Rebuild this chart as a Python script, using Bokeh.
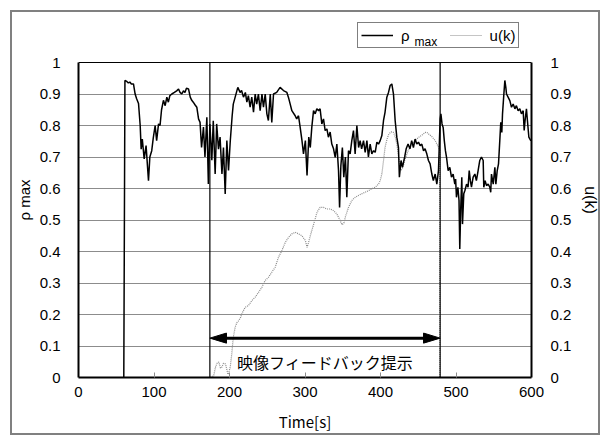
from math import pi
from bokeh.plotting import figure
from bokeh.models import (Range1d, LinearAxis, Span, Label, Legend, LegendItem,
                          FixedTicker, ColumnDataSource)
from bokeh.embed import file_html
from bokeh.resources import INLINE
from bokeh.core.properties import value

# ---- data ----
RHO_T = [60, 61.5, 64, 66, 68, 70, 72.8, 75, 77, 79.5, 81.7, 83, 84.5, 87, 89.5, 92.7, 94.5, 97, 99,
         101.5, 103.5, 106, 108, 110, 112.5, 114.8, 117, 119, 121, 123.6, 127, 130, 132.5, 134.5,
         136.8, 139, 141, 143, 145.7, 148, 150, 152, 154.5, 156.7, 159, 161, 163, 165.5, 167.5,
         170, 172, 174, 176.6, 178.5, 181, 183, 185.4, 187.5, 190, 192, 194.3, 196.5, 198.7, 201,
         203.5, 205, 207.5, 211, 214, 216, 218.5, 221, 223, 225, 227.3, 229.5, 231.8, 234, 236,
         238.3, 240.6, 243, 245, 247.3, 249.5, 251.5, 254, 256, 258.3, 262.5, 267, 271.5, 276,
         278, 280.4, 282.6, 287, 289, 291.4, 293.6, 296, 298, 300.5, 302.7, 305, 307, 309, 311.3,
         313.5, 315.7, 318, 320, 322.3, 324.5, 326.7, 329, 331, 333.3, 335.5, 337.8, 340, 342.2,
         344.4, 345.8, 347.5, 349.5, 351.4, 353.5, 355.4, 357.6, 359.8, 362, 364.2, 366.4, 368.7,
         371, 373, 375, 377.5, 379.7, 382, 384, 386.3, 388.5, 390.8, 393, 395.2, 397.4, 399.6,
         401.8, 404, 406, 408.4, 410.6, 412.8, 415, 417.2, 419.4, 421.6, 423.8, 425, 427.2, 429,
         432, 434, 436.5, 439, 441.3, 443.6, 445.8, 448, 450.3, 452.5, 454.7, 457, 459, 461.3,
         463.5, 465.7, 468, 470, 472.4, 474.6, 476.8, 479, 480, 481.5, 483, 484.5, 486, 487.4,
         489.6, 491.8, 494, 496.2, 498.4, 499.5, 500.6, 502.5, 504, 505, 506.3, 507.7, 508.6,
         510.3, 511.7, 514, 516, 517.5, 519, 520.5, 522.7, 525, 527, 529.3, 531.5, 533.7, 536,
         536.8, 538.6, 540.4, 542.6, 544.8, 546, 547, 549.3, 551.5, 552.8, 554.6, 556.3, 558,
         559.3, 560.7, 561.6, 563.4, 564.7, 566, 566.9, 569, 571.3, 573.5, 575.7, 578, 580, 582.3,
         584.5, 586.7, 589, 590.3, 591.5, 593.3, 594.6, 596.5, 598.5, 600]
RHO_V = [0.0, 0.943, 0.94, 0.935, 0.938, 0.932, 0.932, 0.90, 0.885, 0.87, 0.80, 0.725, 0.757, 0.694,
         0.736, 0.625, 0.70, 0.72, 0.76, 0.80, 0.752, 0.805, 0.80, 0.85, 0.88, 0.863, 0.89, 0.874,
         0.895, 0.90, 0.905, 0.91, 0.916, 0.905, 0.90, 0.91, 0.905, 0.918, 0.916, 0.89, 0.88,
         0.874, 0.865, 0.858, 0.821, 0.81, 0.73, 0.795, 0.70, 0.826, 0.614, 0.805, 0.69, 0.815,
         0.646, 0.805, 0.725, 0.763, 0.646, 0.73, 0.583, 0.752, 0.657, 0.75, 0.83, 0.868, 0.89,
         0.921, 0.905, 0.911, 0.89, 0.905, 0.874, 0.895, 0.858, 0.89, 0.842, 0.90, 0.868, 0.90,
         0.847, 0.90, 0.858, 0.90, 0.837, 0.816, 0.90, 0.81, 0.90, 0.905, 0.921, 0.911, 0.905,
         0.89, 0.868, 0.847, 0.831, 0.821, 0.831, 0.794, 0.752, 0.71, 0.752, 0.641, 0.763, 0.73,
         0.794, 0.847, 0.837, 0.853, 0.847, 0.853, 0.805, 0.821, 0.784, 0.789, 0.763, 0.779,
         0.741, 0.726, 0.699, 0.741, 0.657, 0.54, 0.672, 0.73, 0.636, 0.70, 0.572, 0.72, 0.71,
         0.752, 0.784, 0.71, 0.80, 0.73, 0.752, 0.726, 0.752, 0.715, 0.752, 0.70, 0.741, 0.71,
         0.72, 0.715, 0.747, 0.741, 0.752, 0.768, 0.816, 0.842, 0.89, 0.905, 0.927, 0.932, 0.90,
         0.816, 0.763, 0.73, 0.636, 0.689, 0.667, 0.70, 0.726, 0.741, 0.726, 0.752, 0.73, 0.757,
         0.741, 0.747, 0.736, 0.741, 0.72, 0.726, 0.71, 0.689, 0.678, 0.646, 0.625, 0.646, 0.614,
         0.657, 0.821, 0.837, 0.805, 0.794, 0.752, 0.72, 0.70, 0.657, 0.667, 0.636, 0.646, 0.614,
         0.63, 0.572, 0.604, 0.562, 0.408, 0.54, 0.636, 0.487, 0.583, 0.593, 0.614, 0.604, 0.657,
         0.625, 0.604, 0.636, 0.646, 0.625, 0.657, 0.689, 0.70, 0.689, 0.604, 0.625, 0.609, 0.614,
         0.604, 0.588, 0.646, 0.614, 0.667, 0.614, 0.657, 0.678, 0.752, 0.81, 0.778, 0.837, 0.90,
         0.943, 0.921, 0.90, 0.89, 0.879, 0.858, 0.868, 0.853, 0.863, 0.847, 0.853, 0.837, 0.847,
         0.784, 0.816, 0.853, 0.816, 0.763, 0.754, 0.752]

U_T = [175, 179, 181.5, 183.5, 185.9, 188, 190, 192, 194.7, 196.5, 198, 199.5, 201, 203, 205,
       207.5, 210, 212, 214.6, 216, 218, 220.8, 225, 229.5, 234, 238.4, 242.8, 247.2, 251.6, 256,
       260.5, 264.9, 269.4, 273.9, 278.2, 282.6, 287, 291.4, 295.8, 300.5, 302.7, 304.8, 307,
       311.5, 316, 320, 324.5, 329, 333, 337.7, 342.2, 346.6, 349, 351.5, 353.5, 357.6, 362,
       366.4, 370.7, 375, 379.6, 384, 388.5, 393, 397.4, 399.6, 401.8, 404, 406, 408.4, 410.6,
       413, 415, 417.2, 419.4, 421.6, 424, 426, 427.4, 429.6, 432, 436.6, 441, 445.8, 450.3, 455,
       459.4, 461.5, 463.8, 468, 472.5, 477, 478.5, 478.6, 600]
U_V = [0.0, 0.005, 0.033, 0.045, 0.049, 0.03, 0.033, 0.045, 0.043, 0.025, 0.01, 0.02, 0.033,
       0.075, 0.127, 0.16, 0.175, 0.18, 0.19, 0.20, 0.21, 0.223, 0.228, 0.244, 0.255, 0.27, 0.286,
       0.308, 0.318, 0.334, 0.35, 0.382, 0.403, 0.429, 0.445, 0.456, 0.461, 0.456, 0.45, 0.435,
       0.413, 0.429, 0.45, 0.487, 0.525, 0.54, 0.54, 0.535, 0.535, 0.53, 0.519, 0.498, 0.485,
       0.49, 0.51, 0.54, 0.562, 0.572, 0.578, 0.583, 0.588, 0.593, 0.599, 0.604, 0.614, 0.625,
       0.646, 0.689, 0.73, 0.755, 0.77, 0.778, 0.78, 0.778, 0.765, 0.741, 0.70, 0.667, 0.657,
       0.667, 0.689, 0.72, 0.741, 0.752, 0.762, 0.77, 0.778, 0.778, 0.773, 0.765, 0.752, 0.73,
       0.72, 0.0, 0.0]

X_TICKS = [0, 100, 200, 300, 400, 500, 600]
X_TICK_LABELS = ["0", "100", "200", "300", "400", "500", "600"]
Y_TICKS = [0, 0.1, 0.2, 0.3, 0.4, 0.5, 0.6, 0.7, 0.8, 0.9, 1]
Y_TICK_LABELS = ["0", "0.1", "0.2", "0.3", "0.4", "0.5", "0.6", "0.7", "0.8", "0.9", "1"]

FEEDBACK_START = 174
FEEDBACK_END = 479
FEEDBACK_TEXT = "映像フィードバック提示"
X_LABEL = "Time[s]"
RHO_LABEL = "ρ max"
RHO_NAME = "ρ"
RHO_SUB = "max"
U_LABEL = "u(k)"

# ---- styling / layout constants ----
NUM_FONT = "Liberation Sans"
JP_FONT = "Noto Sans CJK JP"
X_MIN, X_MAX = 0, 600
Y_MIN, Y_MAX = 0, 1
Y_VIEW_TOP = 1.127      # room above the plot area for the legend box
ARROW_Y = 0.125
HEAD_LEN = 22
HEAD_HALF = 0.016
TEXT_Y = 0.05

p = figure(width=590, height=425, x_range=Range1d(X_MIN, X_MAX),
           y_range=Range1d(Y_MIN, Y_VIEW_TOP),
           output_backend="svg", toolbar_location=None,
           min_border_left=66, min_border_right=71, min_border_top=10, min_border_bottom=60)
p.styles = {"border": "2px solid #808080", "margin": "10px 0 0 10px"}
p.background_fill_color = "white"
p.border_fill_color = "white"
p.outline_line_color = None
p.extra_y_ranges = {"u": Range1d(Y_MIN, Y_VIEW_TOP)}

p.xgrid.visible = False
p.ygrid.ticker = FixedTicker(ticks=Y_TICKS)
p.ygrid.grid_line_color = "#8c8c8c"
p.ygrid.grid_line_width = 1

# x axis
xa = p.xaxis[0]
xa.ticker = FixedTicker(ticks=X_TICKS)
xa.major_label_overrides = dict(zip(X_TICKS, X_TICK_LABELS))
xa.minor_tick_line_color = None
xa.major_tick_in = 5
xa.major_tick_out = 0
xa.major_tick_line_color = "#8c8c8c"
xa.axis_line_color = "black"
xa.axis_line_width = 2
xa.major_label_standoff = 9
xa.major_label_text_font = NUM_FONT
xa.major_label_text_font_size = "15px"
xa.major_label_text_color = "black"
xa.axis_label = X_LABEL
xa.axis_label_text_font = JP_FONT
xa.axis_label_text_font_style = "normal"
xa.axis_label_text_font_size = "15px"
xa.axis_label_text_color = "black"
xa.axis_label_standoff = 11

# left axis
ya = p.yaxis[0]
ya.bounds = (Y_MIN, Y_MAX)
ya.ticker = FixedTicker(ticks=Y_TICKS)
ya.major_label_overrides = dict(zip(Y_TICKS, Y_TICK_LABELS))
ya.minor_tick_line_color = None
ya.major_tick_line_color = None
ya.axis_line_color = "black"
ya.axis_line_width = 2
ya.major_label_standoff = 12
ya.major_label_text_font = NUM_FONT
ya.major_label_text_font_size = "15px"
ya.major_label_text_color = "black"
ya.axis_label = RHO_LABEL
ya.axis_label_text_font = NUM_FONT
ya.axis_label_text_font_style = "normal"
ya.axis_label_text_font_size = "15px"
ya.axis_label_text_color = "black"
ya.axis_label_standoff = 4

# right axis
ra = LinearAxis(y_range_name="u", ticker=FixedTicker(ticks=Y_TICKS), bounds=(Y_MIN, Y_MAX))
ra.major_label_overrides = dict(zip(Y_TICKS, Y_TICK_LABELS))
ra.minor_tick_line_color = None
ra.major_tick_line_color = None
ra.axis_line_color = "black"
ra.axis_line_width = 2
ra.major_label_standoff = 13
ra.major_label_text_font = NUM_FONT
ra.major_label_text_font_size = "15px"
ra.major_label_text_color = "black"
ra.axis_label = U_LABEL
ra.axis_label_text_font = NUM_FONT
ra.axis_label_text_font_style = "normal"
ra.axis_label_text_font_size = "16px"
ra.axis_label_text_color = "black"
ra.axis_label_standoff = 8
p.add_layout(ra, "right")

# top edge of the plot area
p.add_layout(Span(location=Y_MAX, dimension="width", line_color="black", line_width=1))

# series
rho_src = ColumnDataSource(dict(t=RHO_T, v=RHO_V))
u_src = ColumnDataSource(dict(t=U_T, v=U_V))
u_line = p.line("t", "v", source=u_src, y_range_name="u", line_color="#8a8a8a",
                line_width=1.2, line_dash="1 1")
rho_line = p.line("t", "v", source=rho_src, line_color="black", line_width=1.5)

# feedback markers (full height of the plot area)
p.segment(x0=[FEEDBACK_START, FEEDBACK_END], y0=[Y_MIN, Y_MIN],
          x1=[FEEDBACK_START, FEEDBACK_END], y1=[Y_MAX, Y_MAX],
          line_color="black", line_width=1.2)

# double arrow
p.segment(x0=[FEEDBACK_START + HEAD_LEN * 0.5], y0=[ARROW_Y],
          x1=[FEEDBACK_END - HEAD_LEN * 0.5], y1=[ARROW_Y], line_color="black", line_width=3)
p.patches(xs=[[FEEDBACK_START, FEEDBACK_START + HEAD_LEN, FEEDBACK_START + HEAD_LEN],
              [FEEDBACK_END, FEEDBACK_END - HEAD_LEN, FEEDBACK_END - HEAD_LEN]],
          ys=[[ARROW_Y, ARROW_Y + HEAD_HALF, ARROW_Y - HEAD_HALF],
              [ARROW_Y, ARROW_Y + HEAD_HALF, ARROW_Y - HEAD_HALF]],
          fill_color="black", line_color="black")
p.text(x=[(FEEDBACK_START + FEEDBACK_END) / 2], y=[TEXT_Y], text=[FEEDBACK_TEXT],
       text_align="center", text_baseline="middle", text_font=value(JP_FONT),
       text_font_size="16px", text_color="black")

# legend box above the plot area (inside the frame, so nothing is clipped)
legend = Legend(items=[LegendItem(label=RHO_NAME + "\u2003\u2003", renderers=[rho_line]),
                       LegendItem(label=U_LABEL, renderers=[u_line])],
                orientation="horizontal", location=(279, 329))
legend.border_line_color = "black"
legend.border_line_width = 1
legend.background_fill_alpha = 0
legend.glyph_width = 32
legend.glyph_height = 16
legend.label_standoff = 8
legend.spacing = 10
legend.padding = 3
legend.margin = 0
legend.label_text_font = NUM_FONT
legend.label_text_font_size = "15px"
legend.label_text_color = "black"
legend.label_height = 18
p.add_layout(legend)
p.add_layout(Label(x=445, y=1.064, text=RHO_SUB, text_align="left", level="overlay",
                   text_baseline="alphabetic", text_font=NUM_FONT,
                   text_font_size="12px", text_color="black"))

open("out.html", "w").write(file_html(p, INLINE))
